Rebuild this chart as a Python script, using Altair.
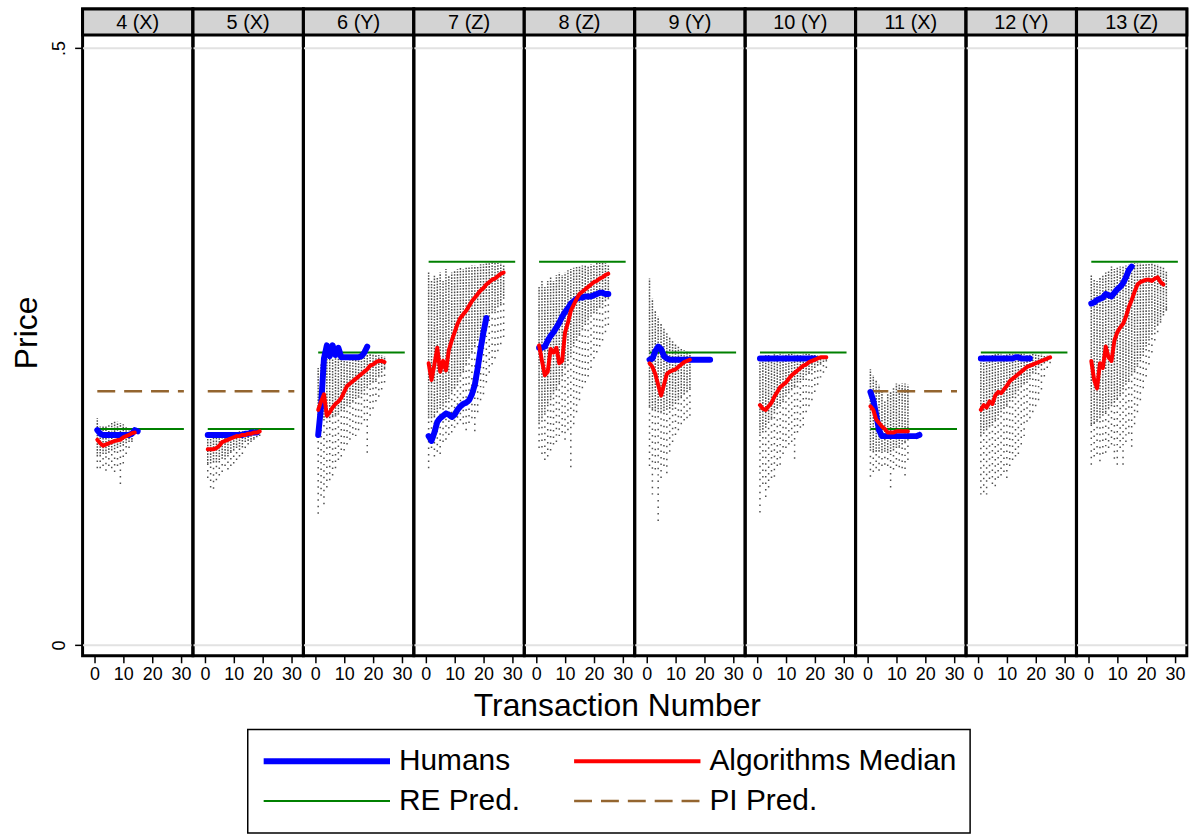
import altair as alt
import pandas as pd

FONT = "Liberation Sans"

PANELS = ["4 (X)", "5 (X)", "6 (Y)", "7 (Z)", "8 (Z)", "9 (Y)", "10 (Y)", "11 (X)", "12 (Y)", "13 (Z)"]
# legend is filled column by column: Humans / RE Pred. | Algorithms Median / PI Pred.
SERIES = ["Humans", "RE Pred.", "Algorithms Median", "PI Pred."]
SERIES_COLORS = ["#0000ff", "#008000", "#ff0000", "#94652f"]
SERIES_WIDTHS = [6, 2, 4, 2.5]
SERIES_DASHES = [[1, 0], [1, 0], [1, 0], [18, 9]]

X_TITLE = "Transaction Number"
X_TITLE_PANEL = "8 (Z)"
X_TICKS = [0, 10, 20, 30]
Y_TICKS = [0, 0.5]
PRED_X = [1, 31]

RE_PRED = [0.181, 0.181, 0.245, 0.321, 0.321, 0.245, 0.245, 0.181, 0.245, 0.321]
PI_PRED = [0.2125, 0.2125, None, None, None, None, None, 0.2125, None, None]

HUMANS = [
    [0.180, 0.177, 0.176, 0.176, 0.176, 0.176, 0.176, 0.176, 0.176, 0.176, 0.176, 0.176, 0.177, 0.180, 0.179],
    [0.176, 0.176, 0.176, 0.176, 0.176, 0.176, 0.176, 0.176, 0.176, 0.176, 0.176, 0.176, 0.176, 0.177, 0.177, 0.178, 0.178, 0.178],
    [0.176, 0.200, 0.240, 0.251, 0.242, 0.251, 0.243, 0.249, 0.241, 0.241, 0.241, 0.241, 0.241, 0.241, 0.241, 0.242, 0.245, 0.250],
    [0.175, 0.171, 0.178, 0.187, 0.190, 0.192, 0.194, 0.193, 0.191, 0.193, 0.197, 0.200, 0.202, 0.203, 0.205, 0.210, 0.218, 0.232, 0.248, 0.262, 0.274],
    [0.249, 0.249, 0.250, 0.255, 0.259, 0.262, 0.266, 0.270, 0.275, 0.279, 0.282, 0.286, 0.288, 0.290, 0.291, 0.291, 0.292, 0.292, 0.292, 0.293, 0.294, 0.295, 0.295, 0.294, 0.294],
    [0.239, 0.240, 0.246, 0.250, 0.248, 0.242, 0.240, 0.239, 0.239, 0.239, 0.239, 0.239, 0.239, 0.239, 0.239, 0.239, 0.239, 0.239, 0.239, 0.239, 0.239, 0.239],
    [0.240, 0.240, 0.240, 0.240, 0.240, 0.240, 0.240, 0.240, 0.240, 0.240, 0.240, 0.240, 0.240, 0.240, 0.240, 0.240, 0.240, 0.240, 0.240, 0.240],
    [0.212, 0.205, 0.193, 0.180, 0.175, 0.175, 0.175, 0.175, 0.175, 0.175, 0.175, 0.175, 0.175, 0.175, 0.175, 0.175, 0.175, 0.176],
    [0.240, 0.240, 0.240, 0.240, 0.240, 0.240, 0.240, 0.240, 0.240, 0.240, 0.240, 0.240, 0.241, 0.241, 0.240, 0.240, 0.240, 0.240],
    [0.286, 0.287, 0.289, 0.290, 0.291, 0.294, 0.293, 0.292, 0.295, 0.298, 0.300, 0.303, 0.308, 0.314, 0.317],
]

ALG_MEDIAN = [
    [0.172, 0.169, 0.167, 0.168, 0.169, 0.170, 0.171, 0.1715, 0.172, 0.174, 0.175, 0.176, 0.1775, 0.178],
    [0.164, 0.164, 0.164, 0.165, 0.167, 0.170, 0.171, 0.172, 0.173, 0.174, 0.175, 0.175, 0.176, 0.176, 0.177, 0.177, 0.178, 0.178, 0.179],
    [0.197, 0.204, 0.210, 0.192, 0.195, 0.199, 0.202, 0.204, 0.207, 0.212, 0.217, 0.219, 0.221, 0.223, 0.225, 0.227, 0.229, 0.231, 0.234, 0.235, 0.237, 0.238, 0.238, 0.237],
    [0.236, 0.222, 0.235, 0.249, 0.229, 0.238, 0.230, 0.247, 0.255, 0.262, 0.269, 0.274, 0.277, 0.280, 0.284, 0.288, 0.291, 0.294, 0.297, 0.299, 0.302, 0.304, 0.306, 0.307, 0.309, 0.311, 0.312],
    [0.251, 0.238, 0.226, 0.229, 0.248, 0.245, 0.249, 0.236, 0.238, 0.262, 0.270, 0.280, 0.285, 0.290, 0.294, 0.296, 0.298, 0.300, 0.302, 0.304, 0.305, 0.307, 0.308, 0.310, 0.311],
    [0.236, 0.233, 0.227, 0.218, 0.209, 0.218, 0.227, 0.229, 0.230, 0.231, 0.233, 0.235, 0.237, 0.238, 0.239],
    [0.201, 0.198, 0.197, 0.200, 0.203, 0.208, 0.212, 0.216, 0.218, 0.220, 0.223, 0.226, 0.228, 0.230, 0.232, 0.234, 0.235, 0.237, 0.238, 0.239, 0.240, 0.241, 0.241, 0.241],
    [0.200, 0.197, 0.189, 0.186, 0.183, 0.181, 0.178, 0.178, 0.178, 0.179, 0.179, 0.179, 0.179, 0.179],
    [0.197, 0.201, 0.199, 0.204, 0.202, 0.209, 0.212, 0.211, 0.214, 0.217, 0.221, 0.223, 0.225, 0.227, 0.229, 0.231, 0.233, 0.234, 0.235, 0.236, 0.237, 0.238, 0.239, 0.240, 0.241],
    [0.238, 0.222, 0.215, 0.236, 0.232, 0.250, 0.241, 0.238, 0.255, 0.262, 0.266, 0.269, 0.275, 0.283, 0.289, 0.296, 0.302, 0.304, 0.305, 0.306, 0.306, 0.305, 0.307, 0.308, 0.304, 0.302],
]

# individual algorithm prices: per transaction, top of the cloud,
# lower end of the dense part, and lowest scattered price
CLOUD_TOP = [
    [0.190, 0.183, 0.184, 0.184, 0.185, 0.186, 0.187, 0.187, 0.186, 0.185, 0.183, 0.182, 0.181],
    [0.177, 0.177, 0.177, 0.177, 0.177, 0.178, 0.178, 0.178, 0.178, 0.178, 0.178, 0.179, 0.179, 0.179, 0.179, 0.179, 0.179, 0.179, 0.178],
    [0.232, 0.235, 0.238, 0.240, 0.240, 0.240, 0.241, 0.242, 0.243, 0.243, 0.243, 0.243, 0.243, 0.243, 0.243, 0.243, 0.244, 0.244, 0.244, 0.244, 0.244, 0.243, 0.243, 0.242],
    [0.312, 0.305, 0.310, 0.308, 0.312, 0.305, 0.315, 0.310, 0.312, 0.314, 0.315, 0.316, 0.315, 0.316, 0.317, 0.318, 0.318, 0.318, 0.319, 0.319, 0.320, 0.320, 0.321, 0.321, 0.320, 0.320, 0.318],
    [0.300, 0.305, 0.300, 0.305, 0.308, 0.305, 0.310, 0.312, 0.310, 0.312, 0.314, 0.315, 0.316, 0.317, 0.317, 0.318, 0.318, 0.318, 0.319, 0.319, 0.320, 0.320, 0.320, 0.320, 0.318],
    [0.307, 0.290, 0.280, 0.275, 0.270, 0.265, 0.262, 0.258, 0.255, 0.252, 0.250, 0.248, 0.247, 0.246, 0.245],
    [0.242, 0.243, 0.243, 0.243, 0.243, 0.244, 0.244, 0.244, 0.244, 0.244, 0.244, 0.244, 0.244, 0.244, 0.244, 0.244, 0.244, 0.244, 0.243, 0.243, 0.243, 0.242, 0.241, 0.240],
    [0.231, 0.226, 0.222, 0.218, 0.212, 0.205, 0.210, 0.212, 0.215, 0.219, 0.218, 0.219, 0.219, 0.218],
    [0.242, 0.243, 0.243, 0.243, 0.244, 0.244, 0.244, 0.244, 0.244, 0.244, 0.244, 0.244, 0.244, 0.244, 0.244, 0.244, 0.244, 0.244, 0.244, 0.244, 0.244, 0.244, 0.243, 0.243, 0.242],
    [0.310, 0.306, 0.305, 0.308, 0.310, 0.312, 0.314, 0.317, 0.315, 0.316, 0.317, 0.318, 0.318, 0.319, 0.319, 0.320, 0.320, 0.320, 0.320, 0.320, 0.320, 0.320, 0.319, 0.319, 0.318, 0.316, 0.314],
]

CLOUD_DENSE_BOTTOM = [
    [0.158, 0.158, 0.160, 0.160, 0.161, 0.163, 0.164, 0.165, 0.166, 0.167, 0.169, 0.170, 0.172],
    [0.152, 0.152, 0.153, 0.153, 0.155, 0.156, 0.158, 0.160, 0.162, 0.163, 0.165, 0.166, 0.168, 0.170, 0.171, 0.172, 0.173, 0.174, 0.175],
    [0.190, 0.188, 0.188, 0.190, 0.190, 0.192, 0.193, 0.195, 0.196, 0.198, 0.200, 0.202, 0.204, 0.206, 0.208, 0.210, 0.213, 0.215, 0.218, 0.220, 0.222, 0.225, 0.228, 0.232],
    [0.190, 0.190, 0.192, 0.195, 0.198, 0.200, 0.203, 0.206, 0.210, 0.215, 0.220, 0.225, 0.230, 0.235, 0.240, 0.245, 0.250, 0.255, 0.260, 0.265, 0.270, 0.275, 0.278, 0.280, 0.283, 0.286, 0.290],
    [0.185, 0.190, 0.195, 0.200, 0.205, 0.210, 0.215, 0.220, 0.225, 0.232, 0.238, 0.244, 0.250, 0.255, 0.260, 0.264, 0.268, 0.272, 0.275, 0.278, 0.280, 0.283, 0.285, 0.288, 0.290],
    [0.200, 0.198, 0.196, 0.195, 0.195, 0.196, 0.197, 0.198, 0.200, 0.202, 0.205, 0.208, 0.210, 0.212, 0.215],
    [0.175, 0.178, 0.182, 0.186, 0.190, 0.194, 0.198, 0.202, 0.205, 0.208, 0.211, 0.214, 0.217, 0.220, 0.222, 0.224, 0.226, 0.228, 0.230, 0.232, 0.234, 0.236, 0.237, 0.238],
    [0.165, 0.163, 0.162, 0.162, 0.163, 0.164, 0.163, 0.162, 0.163, 0.165, 0.166, 0.168, 0.170, 0.172],
    [0.175, 0.177, 0.180, 0.183, 0.186, 0.189, 0.192, 0.195, 0.198, 0.201, 0.204, 0.207, 0.210, 0.213, 0.216, 0.219, 0.222, 0.225, 0.228, 0.230, 0.232, 0.234, 0.236, 0.238, 0.240],
    [0.185, 0.186, 0.188, 0.190, 0.192, 0.195, 0.198, 0.200, 0.203, 0.206, 0.210, 0.214, 0.218, 0.222, 0.226, 0.230, 0.235, 0.240, 0.245, 0.250, 0.255, 0.260, 0.264, 0.268, 0.272, 0.276, 0.280],
]

CLOUD_BOTTOM = [
    [0.148, 0.148, 0.150, 0.146, 0.150, 0.148, 0.145, 0.150, 0.135, 0.152, 0.160, 0.165, 0.170],
    [0.140, 0.132, 0.131, 0.138, 0.142, 0.145, 0.150, 0.147, 0.150, 0.152, 0.155, 0.158, 0.160, 0.165, 0.168, 0.170, 0.172, 0.174, 0.175],
    [0.110, 0.125, 0.118, 0.132, 0.138, 0.142, 0.148, 0.155, 0.158, 0.163, 0.168, 0.172, 0.176, 0.175, 0.180, 0.185, 0.188, 0.161, 0.192, 0.198, 0.204, 0.208, 0.214, 0.220],
    [0.148, 0.165, 0.158, 0.162, 0.160, 0.170, 0.172, 0.176, 0.178, 0.182, 0.185, 0.188, 0.185, 0.180, 0.186, 0.190, 0.179, 0.195, 0.205, 0.210, 0.220, 0.228, 0.235, 0.240, 0.246, 0.252, 0.258],
    [0.165, 0.160, 0.155, 0.158, 0.163, 0.168, 0.170, 0.175, 0.178, 0.172, 0.180, 0.149, 0.185, 0.195, 0.205, 0.215, 0.220, 0.225, 0.232, 0.240, 0.245, 0.250, 0.255, 0.262, 0.268],
    [0.150, 0.126, 0.147, 0.104, 0.140, 0.150, 0.144, 0.162, 0.170, 0.176, 0.180, 0.185, 0.188, 0.190, 0.192],
    [0.111, 0.135, 0.124, 0.132, 0.140, 0.141, 0.150, 0.151, 0.160, 0.165, 0.168, 0.170, 0.156, 0.178, 0.182, 0.184, 0.195, 0.200, 0.205, 0.212, 0.218, 0.224, 0.228, 0.232],
    [0.141, 0.145, 0.148, 0.146, 0.150, 0.151, 0.150, 0.132, 0.147, 0.150, 0.149, 0.148, 0.142, 0.155],
    [0.126, 0.128, 0.126, 0.139, 0.135, 0.133, 0.140, 0.142, 0.145, 0.140, 0.150, 0.155, 0.158, 0.160, 0.168, 0.175, 0.187, 0.190, 0.195, 0.200, 0.205, 0.214, 0.225, 0.232, 0.236],
    [0.151, 0.158, 0.160, 0.154, 0.160, 0.161, 0.165, 0.168, 0.156, 0.151, 0.165, 0.151, 0.170, 0.177, 0.166, 0.185, 0.195, 0.205, 0.215, 0.225, 0.235, 0.245, 0.255, 0.262, 0.270, 0.276, 0.282],
]

# ---------------------------------------------------------------- table
rows = []
for i, p in enumerate(PANELS):
    rows.append({"panel": p, "kind": "strip", "label": p})
    if p == X_TITLE_PANEL:
        rows.append({"panel": p, "kind": "xtitle", "label": X_TITLE})
    for j, v in enumerate(HUMANS[i]):
        rows.append({"panel": p, "kind": "line", "series": "Humans", "x": j + 1, "y": v})
    for j, v in enumerate(ALG_MEDIAN[i]):
        rows.append({"panel": p, "kind": "line", "series": "Algorithms Median", "x": j + 1, "y": v})
    for xx in PRED_X:
        rows.append({"panel": p, "kind": "line", "series": "RE Pred.", "x": xx, "y": RE_PRED[i]})
        if PI_PRED[i] is not None:
            rows.append({"panel": p, "kind": "line", "series": "PI Pred.", "x": xx, "y": PI_PRED[i]})
    for j in range(len(CLOUD_TOP[i])):
        rows.append({"panel": p, "kind": "cloud", "x": j + 1,
                     "hi": CLOUD_TOP[i][j], "mid": CLOUD_DENSE_BOTTOM[i][j], "lo": CLOUD_BOTTOM[i][j]})
df = pd.DataFrame(rows)

# ---------------------------------------------------------------- chart
W = 110.8
H = 650
STRIP = 26

x_scale = alt.Scale(domain=[-4.1, 34.1], nice=False, zero=False)
y_scale = alt.Scale(domain=[-0.009, 0.5327], nice=False, zero=False)

x_axis = alt.Axis(values=X_TICKS, grid=False, domain=False, ticks=True, tickSize=7,
                  tickWidth=1.5, tickColor="black", labelFontSize=18, labelPadding=3,
                  labelFlush=False, title=None)
y_axis = alt.Axis(values=Y_TICKS, grid=True, gridColor="#e2e2e2", gridWidth=2,
                  domain=False, tickSize=8, tickWidth=1.5, tickColor="black",
                  labelAngle=270, labelFontSize=18, labelPadding=6,
                  labelExpr="datum.value == 0 ? '0' : '.5'",
                  title="Price", titleFontSize=32, titleFontWeight="normal", titlePadding=7)

LEG = alt.Legend(title=None, orient="none", legendX=166, legendY=724, columns=2,
                 symbolType="stroke", symbolSize=16129, clipHeight=38,
                 labelFontSize=30, labelFont=FONT, labelLimit=400, labelOffset=6,
                 columnPadding=51, rowPadding=2, padding=13)

color_enc = alt.Color("series:N", scale=alt.Scale(domain=SERIES, range=SERIES_COLORS), legend=LEG)
width_enc = alt.StrokeWidth("series:N", scale=alt.Scale(type="ordinal", domain=SERIES, range=SERIES_WIDTHS), legend=LEG)
dash_enc = alt.StrokeDash("series:N", scale=alt.Scale(domain=SERIES, range=SERIES_DASHES), legend=LEG)

base = alt.Chart()

strip_rect = base.mark_rect(fill="#d3d3d3", stroke="black", strokeWidth=3).encode(
    x=alt.value(0), x2=alt.value(W), y=alt.value(0), y2=alt.value(STRIP)
).transform_filter(alt.datum.kind == "strip")

strip_text = base.mark_text(font=FONT, fontSize=20, color="black", baseline="middle").encode(
    x=alt.value(W / 2), y=alt.value(STRIP / 2 + 1), text="label:N"
).transform_filter(alt.datum.kind == "strip")

x_title = base.mark_text(font=FONT, fontSize=32, color="black", baseline="middle").encode(
    x=alt.value(93.5), y=alt.value(701), text="label:N"
).transform_filter(alt.datum.kind == "xtitle")

cloud_dense = base.mark_rule(color="#4f4f4f", strokeWidth=1.5, strokeDash=[1.6, 1.3]).encode(
    x=alt.X("x:Q", scale=x_scale, axis=x_axis),
    y=alt.Y("mid:Q", scale=y_scale, axis=y_axis),
    y2="hi:Q",
).transform_filter(alt.datum.kind == "cloud")

cloud_sparse = base.mark_rule(color="#4f4f4f", strokeWidth=1.5, strokeDash=[1.5, 5]).encode(
    x=alt.X("x:Q", scale=x_scale, axis=x_axis),
    y=alt.Y("lo:Q", scale=y_scale, axis=y_axis),
    y2="mid:Q",
).transform_filter(alt.datum.kind == "cloud")


def series_layer(name, cap):
    return base.mark_line(strokeCap=cap, strokeJoin="round").encode(
        x=alt.X("x:Q", scale=x_scale, axis=x_axis),
        y=alt.Y("y:Q", scale=y_scale, axis=y_axis),
        color=color_enc,
        strokeWidth=width_enc,
        strokeDash=dash_enc,
    ).transform_filter(alt.datum.series == name)


layers = alt.layer(
    strip_rect,
    cloud_sparse,
    cloud_dense,
    series_layer("RE Pred.", "butt"),
    series_layer("PI Pred.", "butt"),
    series_layer("Humans", "round"),
    series_layer("Algorithms Median", "round"),
    strip_text,
    x_title,
    data=df,
).properties(width=W, height=H)

chart = layers.facet(
    column=alt.Column("panel:N", sort=PANELS, header=None),
    spacing=0,
    bounds="flush",
).properties(
    padding={"left": 11, "top": 4, "right": 0, "bottom": 0},
    background="white",
).configure_view(
    stroke="black", strokeWidth=3
).configure_axis(
    labelFont=FONT, titleFont=FONT, labelColor="black", titleColor="black"
).configure_legend(
    strokeColor="black", strokeWidth=1.5
)

chart.save("out.html", embed_options={"renderer": "svg", "actions": False})
